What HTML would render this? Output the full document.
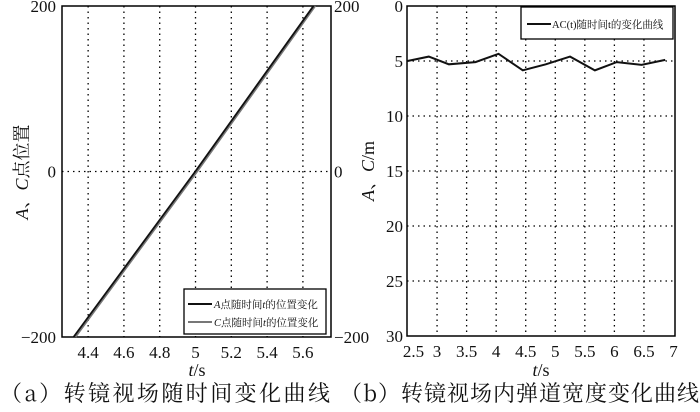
<!DOCTYPE html>
<html><head><meta charset="utf-8"><style>
body{margin:0;background:#fff;width:700px;height:407px;overflow:hidden}
text{font-family:"Liberation Serif","DejaVu Serif","Noto Serif CJK SC",serif;fill:#111}
.cj{font-family:"Noto Serif CJK SC","Liberation Serif",serif}
</style></head><body>
<svg id="s" width="700" height="407" xmlns="http://www.w3.org/2000/svg"></svg>
<script>
// Chart (a)
const aXTicks=[4.4,4.6,4.8,5,5.2,5.4,5.6];
const aXLabels=["4.4","4.6","4.8","5","5.2","5.4","5.6"];
const aYTicks=[-200,0,200];
const aT=[4.32,5.0,5.66];
const aA=[-200,0,200];
const aC=[-200,0,200];
// Chart (b)
const bXTicks=[2.5,3,3.5,4,4.5,5,5.5,6,6.5,7];
const bXLabels=["2.5","3","3.5","4","4.5","5","5.5","6","6.5","7"];
const bYTicks=[0,5,10,15,20,25,30];
const bT=[2.5,2.86,3.2,3.65,4.04,4.45,4.84,5.25,5.67,6.04,6.46,6.86];
const bW=[5.0,4.6,5.3,5.1,4.35,5.85,5.3,4.6,5.85,5.1,5.35,4.9];

const NS="http://www.w3.org/2000/svg",svg=document.getElementById('s');
function el(t,a,p){const e=document.createElementNS(NS,t);for(const k in a)e.setAttribute(k,a[k]);(p||svg).appendChild(e);return e;}
const ax=t=>62+(t-4.254)/(5.757-4.254)*269;
const ay=v=>171.5-v/200*165.5;
const bx=t=>407.5+(t-2.5)/4.5*266;
const by=v=>6+v/30*330;

function frame(x0,y0,x1,y1,name){const r=el('rect',{x:x0,y:y0,width:x1-x0,height:y1-y0,fill:'none',stroke:'#000','stroke-width':1.5});}
aXTicks.forEach((t,i)=>{const x=ax(t);
 const g=el('line',{x1:x,x2:x,y1:6,y2:337,stroke:'#000','stroke-dasharray':'1.5,4','stroke-width':1.3});
 
 const tx=el('text',{x:x,y:358,'font-size':17,'text-anchor':'middle'});tx.textContent=aXLabels[i];
 });
aYTicks.forEach(v=>{const y=ay(v);
 if(v===0){const g=el('line',{x1:62,x2:331,y1:y,y2:y,stroke:'#000','stroke-dasharray':'1.5,4','stroke-width':1.3});}
 const l=el('text',{x:56,y:y+6,'font-size':17,'text-anchor':'end'});l.textContent=v===-200?'−200':String(v);
 
 const r=el('text',{x:334,y:y+6,'font-size':17});r.textContent=v===-200?'−200':String(v);
 });
frame(62,6,331,337,'a-plot-frame');
const pA=el('polyline',{points:aT.map((t,i)=>ax(t)+','+ay(aA[i])).join(' '),fill:'none',stroke:'#111','stroke-width':2.2});

const pC=el('polyline',{points:aT.map((t,i)=>(ax(t)+1.8)+','+ay(aC[i])).join(' '),fill:'none',stroke:'#777','stroke-width':1.5});

const lg=el('g',{});
el('rect',{x:184,y:289,width:142,height:45,fill:'#fff',stroke:'#000','stroke-width':1.3},lg);
el('line',{x1:188,x2:212,y1:304,y2:304,stroke:'#111','stroke-width':2},lg);
el('line',{x1:188,x2:212,y1:322,y2:322,stroke:'#777','stroke-width':2},lg);
let t1=el('text',{x:214,y:308,'font-size':10.5},lg);t1.innerHTML='<tspan font-style="italic">A</tspan>点随时间<tspan font-style="italic">t</tspan>的位置变化';
let t2=el('text',{x:214,y:326,'font-size':10.5},lg);t2.innerHTML='<tspan font-style="italic">C</tspan>点随时间<tspan font-style="italic">t</tspan>的位置变化';
let yl=el('text',{x:0,y:0,'font-size':18,transform:'translate(28,172) rotate(-90)','text-anchor':'middle'});
yl.innerHTML='<tspan font-style="italic">A</tspan>、<tspan font-style="italic">C</tspan>点位置';
let xl=el('text',{x:197,y:376,'font-size':18,'text-anchor':'middle'});xl.innerHTML='<tspan font-style="italic">t</tspan>/s';


bXTicks.forEach((t,i)=>{const x=bx(t);
 if(i>0&&i<bXTicks.length-1){const g=el('line',{x1:x,x2:x,y1:6,y2:336,stroke:'#000','stroke-dasharray':'1.5,4','stroke-width':1.3});}
 const tx=el('text',{x:x+(i===0?6:0),y:357,'font-size':17,'text-anchor':'middle'});tx.textContent=bXLabels[i];
 });
bYTicks.forEach(v=>{const y=by(v);
 if(v>0&&v<30){const g=el('line',{x1:407,x2:675,y1:y,y2:y,stroke:'#000','stroke-dasharray':'1.5,4','stroke-width':1.3});}
 const l=el('text',{x:403,y:y+6,'font-size':17,'text-anchor':'end'});l.textContent=String(v);
 });
frame(407,6,675,336,'b-plot-frame');
const pB=el('polyline',{points:bT.map((t,i)=>bx(t)+','+by(bW[i])).join(' '),fill:'none',stroke:'#111','stroke-width':2});

const lg2=el('g',{});
el('rect',{x:521,y:7,width:152,height:32,fill:'#fff',stroke:'#000','stroke-width':1.3},lg2);
el('line',{x1:527,x2:551,y1:24,y2:24,stroke:'#111','stroke-width':2},lg2);
let t3=el('text',{x:552,y:28,'font-size':10.5},lg2);t3.textContent='AC(t)随时间t的变化曲线';
let yl2=el('text',{x:0,y:0,'font-size':18,transform:'translate(374,171) rotate(-90)','text-anchor':'middle'});
yl2.innerHTML='<tspan font-style="italic">A</tspan>、<tspan font-style="italic">C</tspan>/m';
let xl2=el('text',{x:541,y:376,'font-size':18,'text-anchor':'middle'});xl2.innerHTML='<tspan font-style="italic">t</tspan>/s';


let c1=el('text',{x:0,y:401,'font-size':22,'class':'cj',textLength:330,lengthAdjust:'spacing'});c1.textContent='（a）转镜视场随时间变化曲线';

let c2=el('text',{x:340,y:401,'font-size':22,'class':'cj',textLength:359,lengthAdjust:'spacing'});c2.textContent='（b）转镜视场内弹道宽度变化曲线';

</script>
</body></html>
